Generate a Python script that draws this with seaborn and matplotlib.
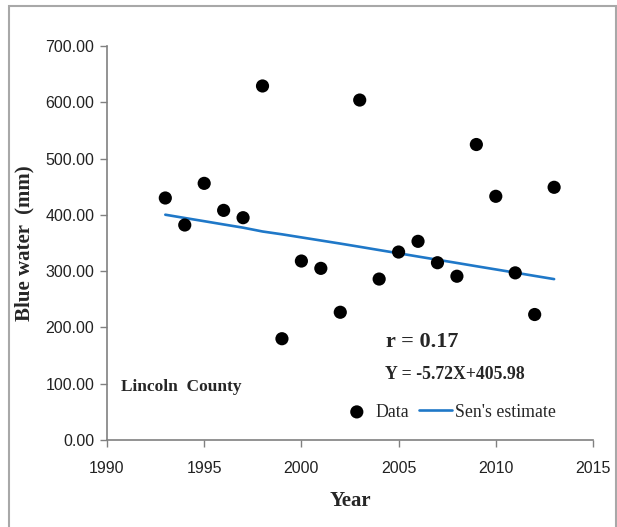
import numpy as np
import pandas as pd
import matplotlib
matplotlib.use("Agg")
import matplotlib.pyplot as plt
import matplotlib.patches as mpatches
import seaborn as sns

# values
years = list(range(1993, 2014))
blue_water = [430, 382, 456, 408, 395, 629, 180, 318, 305, 227, 604,
              286, 334, 353, 315, 291, 525, 433, 297, 223, 449]
sens_estimate = [400.3, 394.5, 388.8, 383.0, 377.3, 370.5, 365.5, 360.0,
                 354.5, 349.0, 343.3, 337.5, 331.8, 326.0, 320.3, 314.6,
                 308.8, 303.1, 297.4, 291.6, 285.9]
x_ticks = [1990, 1995, 2000, 2005, 2010, 2015]
y_ticks = [0, 100, 200, 300, 400, 500, 600, 700]

stats = pd.DataFrame({"Year": years, "Blue": blue_water, "Sen": sens_estimate})

sns.set_style("white")
serif = ["Liberation Serif", "DejaVu Serif"]
narrow = ["Liberation Sans Narrow", "Liberation Sans", "DejaVu Sans"]

fig = plt.figure(figsize=(6.17, 5.27), dpi=100)
ax = fig.add_axes([0.1734, 0.165, 0.7877, 0.7477])

sns.lineplot(data=stats, x="Year", y="Sen", ax=ax, color="#1f78c8",
             linewidth=1.9, label="Sen's estimate", legend=False)
sns.scatterplot(data=stats, x="Year", y="Blue", ax=ax, color="black",
                s=90, edgecolor="none", label="Data", legend=False, zorder=3)

ax.set_xlim(1990, 2015)
ax.set_ylim(0, 700)
ax.set_xticks(x_ticks)
ax.set_yticks(y_ticks)
ax.set_xticklabels([str(t) for t in x_ticks], family=narrow, fontsize=11.5, color="#222222")
ax.set_yticklabels(["%.2f" % t for t in y_ticks], family=narrow, fontsize=11.5, color="#222222")
ax.tick_params(axis="both", direction="out", length=5, width=1, color="#808080",
               bottom=True, left=True, pad=4)
ax.tick_params(axis="x", pad=10)

sns.despine(ax=ax)
for side in ["left", "bottom"]:
    ax.spines[side].set_color("#808080")
    ax.spines[side].set_linewidth(1.2)

ax.set_xlabel("Year", family=serif, fontsize=15, fontweight="bold", labelpad=11)
ax.set_ylabel("Blue water  (mm)", family=serif, fontsize=15, fontweight="bold", labelpad=8)

ax.text(1990.7, 95, "Lincoln  County", family=serif, fontsize=12.5,
        fontweight="bold", va="center")
ax.text(2004.35, 174, "r = 0.17", family=serif, fontsize=16,
        fontweight="bold", va="center")
ax.text(2004.3, 117, "Y = -5.72X+405.98", family=serif, fontsize=12.8,
        fontweight="bold", va="center")

h, l = ax.get_legend_handles_labels()
order = [l.index("Data"), l.index("Sen's estimate")]
ax.legend([h[i] for i in order], [l[i] for i in order], loc="center right",
          bbox_to_anchor=(0.938, 0.071), ncol=2, frameon=False,
          prop={"family": serif, "size": 12.8}, handlelength=1.85,
          handletextpad=0.15, columnspacing=0.55, borderaxespad=0)

# thin grey border round the picture
fig.patches.append(mpatches.Rectangle((9 / 617, -0.01), 607 / 617, 1 - 6 / 527 + 0.01,
                                      transform=fig.transFigure, fill=False,
                                      edgecolor="#a8a8a8", linewidth=1.5))

plt.savefig("out.png", dpi=100)
